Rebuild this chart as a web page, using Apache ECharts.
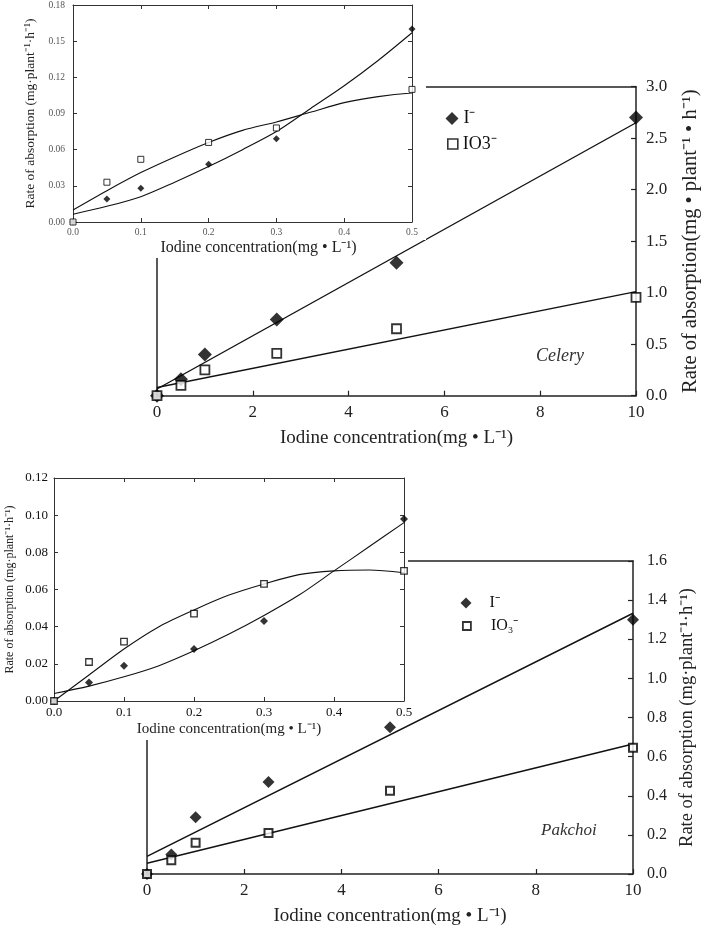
<!DOCTYPE html>
<html><head><meta charset="utf-8">
<script src="https://cdn.jsdelivr.net/npm/echarts@6/dist/echarts.min.js"></script>
<style>html,body{margin:0;padding:0;background:#fff}#c{width:708px;height:926px}</style>
</head><body><div id="c"></div>
<script>
// ---------- data ----------
const mainX = [0, 0.5, 1, 2.5, 5, 10];
const insetX = [0, 0.05, 0.1, 0.2, 0.3, 0.5];
const fitX = [0, 10];
const curveX = [0, 0.05, 0.1, 0.15, 0.2, 0.25, 0.3, 0.35, 0.4, 0.45, 0.5];

// Celery (main)
const celeryI = [0, 0.16, 0.40, 0.74, 1.29, 2.70];
const celeryIO3 = [0, 0.10, 0.25, 0.41, 0.65, 0.955];
const celeryFitI = [0.065, 2.65];
const celeryFitIO3 = [0.08, 1.01];
// Celery (inset)
const celeryInsetI = [0, 0.019, 0.028, 0.048, 0.069, 0.160];
const celeryInsetIO3 = [0, 0.033, 0.052, 0.066, 0.078, 0.110];
const celeryCurveI = [0.0065, 0.013, 0.021, 0.033, 0.046, 0.060, 0.075, 0.094, 0.113, 0.134, 0.157];
const celeryCurveIO3 = [0.010, 0.026, 0.041, 0.054, 0.066, 0.076, 0.083, 0.091, 0.099, 0.104, 0.107];

// Pakchoi (main)
const pakI = [0, 0.10, 0.29, 0.47, 0.75, 1.30];
const pakIO3 = [0, 0.07, 0.16, 0.21, 0.425, 0.645];
const pakFitI = [0.09, 1.333];
const pakFitIO3 = [0.055, 0.665];
// Pakchoi (inset)
const pakInsetI = [0, 0.010, 0.019, 0.028, 0.043, 0.098];
const pakInsetIO3 = [0, 0.021, 0.032, 0.047, 0.063, 0.070];
const pakCurveI = [0.004, 0.008, 0.013, 0.019, 0.027, 0.036, 0.046, 0.057, 0.070, 0.083, 0.096];
const pakCurveIO3 = [0.0, 0.014, 0.028, 0.040, 0.049, 0.057, 0.063, 0.068, 0.070, 0.0705, 0.069];

// tick / label text
const xName = 'Iodine concentration(mg \u2022 L\u207B\u00B9)';
const celeryYName = 'Rate of absorption(mg \u2022 plant\u207B\u00B9 \u2022 h\u207B\u00B9)';
const smallYName = 'Rate of absorption (mg\u00B7plant\u207B\u00B9\u00B7h\u207B\u00B9)';
const legendI = 'I\u207B';
const legendIO3celery = 'IO3\u207B';
const legendIO3pak = 'IO\u2083\u207B';

// ---------- chart ----------
const FF = "'Liberation Serif','Times New Roman',serif";
const pairs = (xs, ys) => xs.map((x, i) => [x, ys[i]]);

function frameAxis(grid, pos, min, max, interval, z, color, width, tickLen, showTick) {
  return {
    type: 'value', gridIndex: grid, position: pos, min, max, interval, z,
    axisLine: { show: true, onZero: false, lineStyle: { color, width } },
    axisTick: { show: showTick, inside: true, length: tickLen, lineStyle: { color, width: 1 } },
    axisLabel: { show: false }, splitLine: { show: false }
  };
}

const xAxis = [
  // 0 celery main bottom
  { type: 'value', gridIndex: 0, position: 'bottom', min: 0, max: 10, interval: 2, z: 1,
    axisLine: { show: true, onZero: false, lineStyle: { color: '#222', width: 1.5 } },
    axisTick: { show: true, inside: true, length: 5, lineStyle: { color: '#222', width: 1.2 } },
    axisLabel: { fontFamily: FF, fontSize: 17, color: '#222', margin: 8 },
    splitLine: { show: false },
    name: xName, nameLocation: 'middle', nameGap: 33, nameMoveOverlap: false,
    nameTextStyle: { fontFamily: FF, fontSize: 19, color: '#222' } },
  // 1 celery main top
  frameAxis(0, 'top', 0, 10, 2, 1, '#222', 1.5, 5, false),
  // 2 celery inset bottom
  { type: 'value', gridIndex: 1, position: 'bottom', min: 0, max: 0.5, interval: 0.1, z: 20,
    axisLine: { show: true, onZero: false, lineStyle: { color: '#333', width: 1 } },
    axisTick: { show: true, inside: true, length: 4, lineStyle: { color: '#333', width: 1 } },
    axisLabel: { fontFamily: FF, fontSize: 9.5, color: '#555', margin: 5, formatter: v => v.toFixed(1) },
    splitLine: { show: false },
    name: xName, nameLocation: 'middle', nameGap: 18, nameMoveOverlap: false,
    nameTextStyle: { fontFamily: FF, fontSize: 16, color: '#222', padding: [0, 0, 0, 32] } },
  // 3 celery inset top
  frameAxis(1, 'top', 0, 0.5, 0.1, 20, '#333', 1, 4, true),
  // 4 pakchoi main bottom
  { type: 'value', gridIndex: 2, position: 'bottom', min: 0, max: 10, interval: 2, z: 1,
    axisLine: { show: true, onZero: false, lineStyle: { color: '#222', width: 1.5 } },
    axisTick: { show: true, inside: true, length: 5, lineStyle: { color: '#222', width: 1.2 } },
    axisLabel: { fontFamily: FF, fontSize: 17, color: '#222', margin: 8 },
    splitLine: { show: false },
    name: xName, nameLocation: 'middle', nameGap: 33, nameMoveOverlap: false,
    nameTextStyle: { fontFamily: FF, fontSize: 19, color: '#222' } },
  // 5 pakchoi main top
  frameAxis(2, 'top', 0, 10, 2, 1, '#222', 1.5, 5, false),
  // 6 pakchoi inset bottom
  { type: 'value', gridIndex: 3, position: 'bottom', min: 0, max: 0.5, interval: 0.1, z: 20,
    axisLine: { show: true, onZero: false, lineStyle: { color: '#333', width: 1 } },
    axisTick: { show: true, inside: true, length: 4, lineStyle: { color: '#333', width: 1 } },
    axisLabel: { fontFamily: FF, fontSize: 13, color: '#111', margin: 5, formatter: v => v.toFixed(1) },
    splitLine: { show: false },
    name: xName, nameLocation: 'middle', nameGap: 21, nameMoveOverlap: false,
    nameTextStyle: { fontFamily: FF, fontSize: 15, color: '#222' } },
  // 7 pakchoi inset top
  frameAxis(3, 'top', 0, 0.5, 0.1, 20, '#333', 1, 4, true)
];

const yAxis = [
  // 0 celery main right
  { type: 'value', gridIndex: 0, position: 'right', min: 0, max: 3, interval: 0.5, z: 1,
    axisLine: { show: true, onZero: false, lineStyle: { color: '#222', width: 1.5 } },
    axisTick: { show: true, inside: true, length: 5, lineStyle: { color: '#222', width: 1.2 } },
    axisLabel: { fontFamily: FF, fontSize: 17, color: '#222', margin: 10, formatter: v => v.toFixed(1) },
    splitLine: { show: false },
    name: celeryYName, nameLocation: 'middle', nameRotate: 90, nameGap: 44, nameMoveOverlap: false,
    nameTextStyle: { fontFamily: FF, fontSize: 20.5, color: '#222' } },
  // 1 celery main left
  frameAxis(0, 'left', 0, 3, 0.5, 1, '#222', 1.5, 5, false),
  // 2 celery inset left
  { type: 'value', gridIndex: 1, position: 'left', min: 0, max: 0.18, interval: 0.03, z: 20,
    axisLine: { show: true, onZero: false, lineStyle: { color: '#333', width: 1 } },
    axisTick: { show: true, inside: true, length: 4, lineStyle: { color: '#333', width: 1 } },
    axisLabel: { fontFamily: FF, fontSize: 9.5, color: '#555', margin: 8, formatter: v => v.toFixed(2) },
    splitLine: { show: false },
    name: smallYName, nameLocation: 'middle', nameRotate: 90, nameGap: 36, nameMoveOverlap: false,
    nameTextStyle: { fontFamily: FF, fontSize: 13.5, color: '#222' } },
  // 3 celery inset right
  frameAxis(1, 'right', 0, 0.18, 0.03, 20, '#333', 1, 4, true),
  // 4 pakchoi main right
  { type: 'value', gridIndex: 2, position: 'right', min: 0, max: 1.6, interval: 0.2, z: 1,
    axisLine: { show: true, onZero: false, lineStyle: { color: '#222', width: 1.5 } },
    axisTick: { show: true, inside: true, length: 5, lineStyle: { color: '#222', width: 1.2 } },
    axisLabel: { fontFamily: FF, fontSize: 16, color: '#222', margin: 14, formatter: v => v.toFixed(1) },
    splitLine: { show: false },
    name: smallYName, nameLocation: 'middle', nameRotate: 90, nameGap: 45, nameMoveOverlap: false,
    nameTextStyle: { fontFamily: FF, fontSize: 18.5, color: '#222' } },
  // 5 pakchoi main left
  frameAxis(2, 'left', 0, 1.6, 0.2, 1, '#222', 1.5, 5, false),
  // 6 pakchoi inset left
  { type: 'value', gridIndex: 3, position: 'left', min: 0, max: 0.12, interval: 0.02, z: 20,
    axisLine: { show: true, onZero: false, lineStyle: { color: '#333', width: 1 } },
    axisTick: { show: true, inside: true, length: 4, lineStyle: { color: '#333', width: 1 } },
    axisLabel: { fontFamily: FF, fontSize: 13, color: '#111', margin: 6, formatter: v => v.toFixed(2) },
    splitLine: { show: false },
    name: smallYName, nameLocation: 'middle', nameRotate: 90, nameGap: 38, nameMoveOverlap: false,
    nameTextStyle: { fontFamily: FF, fontSize: 12, color: '#222' } },
  // 7 pakchoi inset right
  frameAxis(3, 'right', 0, 0.12, 0.02, 20, '#333', 1, 4, true)
];

function scatterDiamond(name, xi, yi, data, size, z) {
  return { type: 'scatter', name, xAxisIndex: xi, yAxisIndex: yi, data, symbol: 'diamond',
    symbolSize: size, itemStyle: { color: '#000' }, z, silent: true };
}
function scatterSquare(name, xi, yi, data, size, bw, z) {
  return { type: 'scatter', name, xAxisIndex: xi, yAxisIndex: yi, data, symbol: 'rect',
    symbolSize: size, itemStyle: { color: '#fff', borderColor: '#000', borderWidth: bw }, z, silent: true };
}
function fitLine(name, xi, yi, data, width, z, smooth) {
  return { type: 'line', name, xAxisIndex: xi, yAxisIndex: yi, data, showSymbol: false, symbol: 'none',
    smooth: smooth || false, lineStyle: { color: '#111', width }, z, silent: true };
}

const series = [
  // celery main
  fitLine('cFitI', 0, 0, pairs(fitX, celeryFitI), 1.4, 2),
  fitLine('cFitIO3', 0, 0, pairs(fitX, celeryFitIO3), 1.4, 2),
  scatterDiamond('cI', 0, 0, pairs(mainX, celeryI), 14, 3),
  scatterSquare('cIO3', 0, 0, pairs(mainX, celeryIO3), 9, 1.8, 4),
  // celery inset
  fitLine('ciCurveI', 2, 2, pairs(curveX, celeryCurveI), 1.1, 30, 0.3),
  fitLine('ciCurveIO3', 2, 2, pairs(curveX, celeryCurveIO3), 1.1, 30, 0.3),
  scatterDiamond('ciI', 2, 2, pairs(insetX, celeryInsetI), 7, 31),
  scatterSquare('ciIO3', 2, 2, pairs(insetX, celeryInsetIO3), 6, 1, 32),
  // pakchoi main
  fitLine('pFitI', 4, 4, pairs(fitX, pakFitI), 1.5, 2),
  fitLine('pFitIO3', 4, 4, pairs(fitX, pakFitIO3), 1.5, 2),
  scatterDiamond('pI', 4, 4, pairs(mainX, pakI), 12, 3),
  scatterSquare('pIO3', 4, 4, pairs(mainX, pakIO3), 8, 2, 4),
  // pakchoi inset
  fitLine('piCurveI', 6, 6, pairs(curveX, pakCurveI), 1.1, 30, 0.3),
  fitLine('piCurveIO3', 6, 6, pairs(curveX, pakCurveIO3), 1.1, 30, 0.3),
  scatterDiamond('piI', 6, 6, pairs(insetX, pakInsetI), 8, 31),
  scatterSquare('piIO3', 6, 6, pairs(insetX, pakInsetIO3), 6.5, 1.3, 32)
];

function legendItem(name, icon, itemStyle, left, top, w, h, text, fontSize, padLeft) {
  return { show: true, orient: 'vertical', left, top, padding: 0, itemWidth: w, itemHeight: h,
    selectedMode: false, z: 40,
    data: [{ name, icon, itemStyle }],
    formatter: () => text,
    textStyle: { fontFamily: FF, fontSize, color: '#111', padding: [0, 0, 0, padLeft] } };
}

const option = {
  animation: false,
  backgroundColor: '#fff',
  grid: [
    { left: 157, right: 72, top: 86.7, bottom: 926 - 395.7, outerBoundsMode: 'none' },
    { left: 73, right: 708 - 412, top: 5, bottom: 926 - 222, outerBoundsMode: 'none' },
    { left: 147, right: 75, top: 561, bottom: 926 - 874, outerBoundsMode: 'none' },
    { left: 54, right: 708 - 404, top: 478, bottom: 926 - 701, outerBoundsMode: 'none' }
  ],
  xAxis, yAxis, series,
  legend: [
    legendItem('cI', 'diamond', { color: '#000' }, 445.5, 109.5, 13, 13, legendI, 18, 0),
    legendItem('cIO3', 'rect', { color: '#fff', borderColor: '#000', borderWidth: 1.6 }, 447, 135, 10, 10, legendIO3celery, 18, 0),
    legendItem('pI', 'diamond', { color: '#000' }, 460.5, 595, 11, 11, legendI, 16, 13),
    legendItem('pIO3', 'rect', { color: '#fff', borderColor: '#000', borderWidth: 1.8 }, 462, 618, 8, 8, legendIO3pak, 16, 15)
  ],
  graphic: [
    // white backgrounds of the insets (cover the main frames beneath)
    { type: 'rect', z: 10, silent: true, shape: { x: 0, y: 0, width: 426, height: 240 }, style: { fill: '#fff' } },
    { type: 'rect', z: 10, silent: true, shape: { x: 0, y: 240, width: 372, height: 18 }, style: { fill: '#fff' } },
    { type: 'rect', z: 10, silent: true, shape: { x: 0, y: 455, width: 408, height: 265 }, style: { fill: '#fff' } },
    { type: 'rect', z: 10, silent: true, shape: { x: 0, y: 720, width: 350, height: 20 }, style: { fill: '#fff' } },
    { type: 'text', z: 40, silent: true, style: { text: 'Celery', x: 536, y: 356, font: 'italic 18px ' + FF, fill: '#333', textVerticalAlign: 'middle' } },
    { type: 'text', z: 40, silent: true, style: { text: 'Pakchoi', x: 541, y: 831, font: 'italic 17px ' + FF, fill: '#333', textVerticalAlign: 'middle' } }
  ]
};

const chart = echarts.init(document.getElementById('c'), null, { renderer: 'canvas' });
chart.setOption(option);
</script>
</body></html>
